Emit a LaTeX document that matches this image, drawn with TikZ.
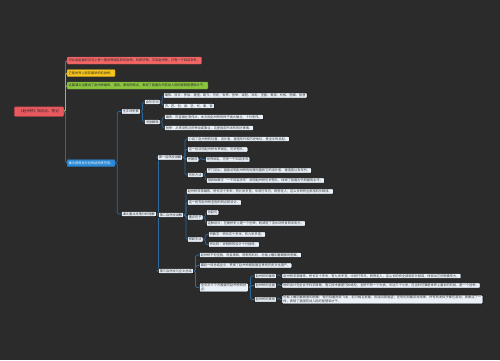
\documentclass[tikz,border=0pt]{standalone}
\usepackage{fontspec}
\setmainfont{Noto Sans CJK SC}
\XeTeXlinebreaklocale "zh"
\XeTeXlinebreakskip=0pt plus 1pt
\usetikzlibrary{positioning}

\definecolor{bgdark}{HTML}{2B2B2B}
\definecolor{rootred}{HTML}{E8595F}
\definecolor{bred}{HTML}{F26666}
\definecolor{byellow}{HTML}{F7C51E}
\definecolor{bgreen}{HTML}{8CC63F}
\definecolor{bblue}{HTML}{2C8AD6}
\definecolor{lineblue}{HTML}{2F6A9E}
\definecolor{leaffill}{HTML}{EAF1F8}

\pgfdeclarelayer{back}
\pgfdeclarelayer{links}
\pgfsetlayers{back,links,main}

\tikzset{
    small/.style={font=\fontsize{3.2}{4}\selectfont},
    rootbox/.style={anchor=west, fill=rootred, draw=rootred!75!black, line width=0.5pt,
        rounded corners=1pt, inner xsep=5pt, inner ysep=1pt, minimum height=9.5pt,
        font=\fontsize{3.6}{4.4}\selectfont, text=black!85},
    topic/.style={small, anchor=west, line width=0.4pt, rounded corners=0.8pt,
        inner xsep=1.5pt, inner ysep=1pt, minimum height=7pt, text=black!85},
    leaf/.style={small, anchor=west, fill=leaffill, draw=black, line width=0.5pt,
        rounded corners=0.8pt, inner xsep=1.5pt, inner ysep=0.8pt, minimum height=5.4pt,
        text=black!80},
    link/.style={draw=lineblue, line width=0.7pt, rounded corners=1.5pt},
}

\begin{document}
\begin{tikzpicture}[x=1pt,y=-1pt]
    \useasboundingbox (0,0) rectangle (500,360);
    \begin{pgfonlayer}{back}
        \fill[bgdark] (0,0) rectangle (500,360);
    \end{pgfonlayer}

    \node[rootbox] (root) at (14,111.5) {《赵州桥》知识点、笔记};

    \node[topic, fill=bred, draw=bred!80!black] (red) at (67,60.5) {河北省赵县的洨河上有一座世界闻名的石拱桥，叫安济桥，又叫赵州桥，已有一千四百多年。};
    \node[topic, fill=byellow, draw=byellow!80!black] (yellow) at (67,73) {它是世界上现存最早的石拱桥。};
    \node[topic, fill=bgreen, draw=bgreen!80!black] (green) at (67,85.5) {这篇课文主要讲了赵州桥雄伟、坚固、美观的特点，表现了我国古代劳动人民的聪明智慧和才干。};
    \node[topic, fill=bblue, draw=bblue!80!black, text=white] (blue) at (67,163) {课文按照总分总的结构来写的。};

    \node[leaf] (words) at (121,111.5) {生字词积累};
    \node[leaf] (write) at (144,102) {会写字词};
    \node[leaf] (explain) at (144,122) {词语解释};
    \node[leaf] (write1) at (163,95.5) {雄伟、设计、参加、建造、距今、历史、世界、创举、减轻、冲击、坚固、美观、栏板、图案、智慧};
    \node[leaf] (write2) at (163,106) {济、匠、创、减、坚、栏、案、智};
    \node[leaf] (explain1) at (164,117) {雄伟：形容雄壮而伟大，本文指赵州桥的样子高大雄壮、十分宏伟。};
    \node[leaf] (explain2) at (164,128) {创举：从来没有过的举动或事业，这里指前所未有的好事情。};

    \node[leaf] (text) at (121,214) {课文重点段落分析理解};

    \node[leaf] (para1) at (157,157.5) {第一自然段讲解};
    \node[leaf] (para1a) at (187,139) {介绍了赵州桥的位置、设计者、建造年代和历史地位，是全文的总起。};
    \node[leaf] (para1b) at (187,149.5) {这一段点明赵州桥世界闻名，历史悠久。};
    \node[leaf] (key1) at (186,159.5) {关键词};
    \node[leaf, right=6pt of key1] (key1a) {世界闻名、历史一千四百多年};
    \node[leaf] (method1) at (187,175) {写作方法};
    \node[leaf] (method1a) at (206,170.5) {开门见山，直接点明赵州桥的地理位置和它的设计者、建造者以及年代。};
    \node[leaf] (method1b) at (206,180.5) {用具体数字“一千四百多年”说明赵州桥历史悠久，体现了我国古代的建筑水平。};

    \node[leaf] (para2) at (158,215) {第二自然段讲解};
    \node[leaf] (para2a) at (186,191.5) {赵州桥非常雄伟，桥长五十多米，有九米多宽，中间行车马，两旁走人，这么长的桥全部用石头砌成。};
    \node[leaf] (para2b) at (187,202.5) {这一段写赵州桥坚固的特点和设计。};
    \node[leaf] (key2) at (187,217.5) {重点句子};
    \node[leaf] (key2a) at (206,212.5) {总起句};
    \node[leaf] (key2b) at (206,223.5) {这种设计，在建桥史上是一个创举，既减轻了流水对桥身的冲击力。};
    \node[leaf] (figure2) at (187,239.5) {修辞手法};
    \node[leaf] (figure2a) at (208,234.5) {列数字：桥长五十多米，有九米多宽。};
    \node[leaf] (figure2b) at (208,244.5) {作比较：说明桥的设计十分独特。};

    \node[leaf] (para3) at (158,271) {第三自然段与全文总结};
    \node[leaf] (para3a) at (199,255) {赵州桥不但坚固，而且美观，两侧有石栏，栏板上雕刻着精美的图案。};
    \node[leaf] (para3b) at (199,265.5) {最后一段总结全文，赞美了赵州桥是我国宝贵的历史文化遗产。};
    \node[leaf, text width=46pt, align=left] (sum) at (199,287.5) {全文从三个方面描写赵州桥的特点：};
    \node[leaf] (grand) at (254,276) {赵州桥的雄伟};
    \node[leaf] (solid) at (254,285.5) {赵州桥的坚固};
    \node[leaf] (pretty) at (254,299.5) {赵州桥的美观};
    \node[leaf, right=5pt of grand] (grand1) {赵州桥非常雄伟，桥长五十多米，有九米多宽，中间行车马，两旁走人，这么长的桥全部用石头砌成，体现出它的规模宏大。};
    \node[leaf, right=5pt of solid] (solid1) {桥的设计完全合乎科学原理，施工技术更是巧妙绝伦，全桥只有一个大拱，长达三十七米，在当时可算是世界上最长的石拱，是一个创举。};
    \node[leaf, right=5pt of pretty, text width=198pt, align=left] (pretty1) {栏板上雕刻着精美的图案：有的刻着两条飞龙，前爪相互抵着，各自回首遥望；还有的刻着双龙戏珠。所有的龙似乎都在游动，真像活了一样，表现了我国劳动人民的智慧和才干。};

    \begin{pgfonlayer}{links}
        \draw[link, draw=bred] (root.east) -- ++(1.5,0) |- (red.west);
        \draw[link, draw=byellow] (root.east) -- ++(1.5,0) |- (yellow.west);
        \draw[link, draw=bgreen] (root.east) -- ++(1.5,0) |- (green.west);
        \draw[link, draw=bblue] (root.east) -- ++(1.5,0) |- (blue.west);

        \foreach \p/\c in {blue/words, blue/text, words/write, words/explain,
            write/write1, write/write2, explain/explain1, explain/explain2,
            text/para1, text/para2, text/para3,
            para1/para1a, para1/para1b, para1/key1, para1/method1, key1/key1a,
            method1/method1a, method1/method1b,
            para2/para2a, para2/para2b, para2/key2, para2/figure2,
            key2/key2a, key2/key2b, figure2/figure2a, figure2/figure2b,
            para3/para3a, para3/para3b, para3/sum,
            sum/grand, sum/solid, sum/pretty,
            grand/grand1, solid/solid1, pretty/pretty1}
            \draw[link] (\p.east) -- ++(2,0) |- (\c.west);
    \end{pgfonlayer}
\end{tikzpicture}
\end{document}
